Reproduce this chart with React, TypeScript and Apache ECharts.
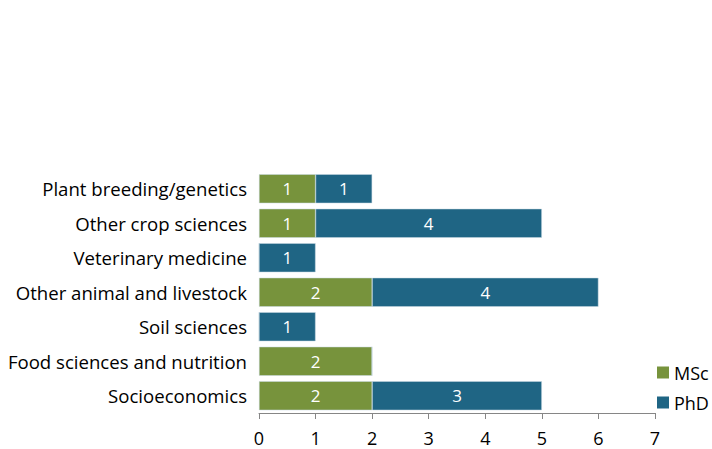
import React, { useEffect, useRef } from "react";
import * as echarts from "echarts";

const categories = [
  "Socioeconomics",
  "Food sciences and nutrition",
  "Soil sciences",
  "Other animal and livestock",
  "Veterinary medicine",
  "Other crop sciences",
  "Plant breeding/genetics",
];
const mscValues = [2, 2, 0, 2, 0, 1, 1];
const phdValues = [3, 0, 1, 4, 1, 4, 1];
const xTicks = [0, 1, 2, 3, 4, 5, 6, 7];

const FONT = "'Open Sans', 'Noto Sans', sans-serif";

export default function App() {
  const ref = useRef<HTMLDivElement>(null);
  useEffect(() => {
    if (!ref.current) return;
    const chart = echarts.init(ref.current, null, { renderer: "svg" });
    const label = {
      show: true,
      position: "inside",
      color: "#ffffff",
      fontSize: 17,
      fontFamily: FONT,
      formatter: (p: any) => (p.value ? String(p.value) : ""),
    };
    chart.setOption({
      animation: false,
      backgroundColor: "#ffffff",
      grid: { left: 259, right: 57, top: 171.5, bottom: 36 },
      legend: {
        orient: "vertical",
        left: 657,
        top: 363.5,
        padding: 0,
        itemWidth: 12,
        itemHeight: 12,
        itemGap: 12,
        icon: "rect",
        itemStyle: { borderWidth: 0 },
        textStyle: { fontSize: 18, lineHeight: 18, fontFamily: FONT, color: "#000", padding: [0, 0, 0, 0] },
        data: ["MSc", "PhD"],
      },
      xAxis: {
        type: "value",
        min: xTicks[0],
        max: xTicks[xTicks.length - 1],
        interval: 1,
        axisLine: { show: true, lineStyle: { color: "#868686", width: 1 } },
        axisTick: { show: true, length: 6, lineStyle: { color: "#868686" } },
        splitLine: { show: false },
        axisLabel: { fontSize: 18, lineHeight: 18, fontFamily: FONT, color: "#000", margin: 16 },
      },
      yAxis: {
        type: "category",
        data: categories,
        axisLine: { show: false },
        axisTick: { show: false },
        axisLabel: { fontSize: 18.6, fontFamily: FONT, color: "#000", margin: 12 },
      },
      series: [
        {
          name: "MSc",
          type: "bar",
          stack: "total",
          data: mscValues,
          barCategoryGap: "16%",
          itemStyle: { color: "#77933C", borderColor: "#c9d9e3", borderWidth: 0.5 },
          label,
        },
        {
          name: "PhD",
          type: "bar",
          stack: "total",
          data: phdValues,
          barCategoryGap: "16%",
          itemStyle: { color: "#1F6584", borderColor: "#c9d9e3", borderWidth: 0.5 },
          label,
        },
      ],
    });
    return () => chart.dispose();
  }, []);
  return <div ref={ref} style={{ width: 712, height: 449, position: "absolute", left: 0, top: 0 }} />;
}
